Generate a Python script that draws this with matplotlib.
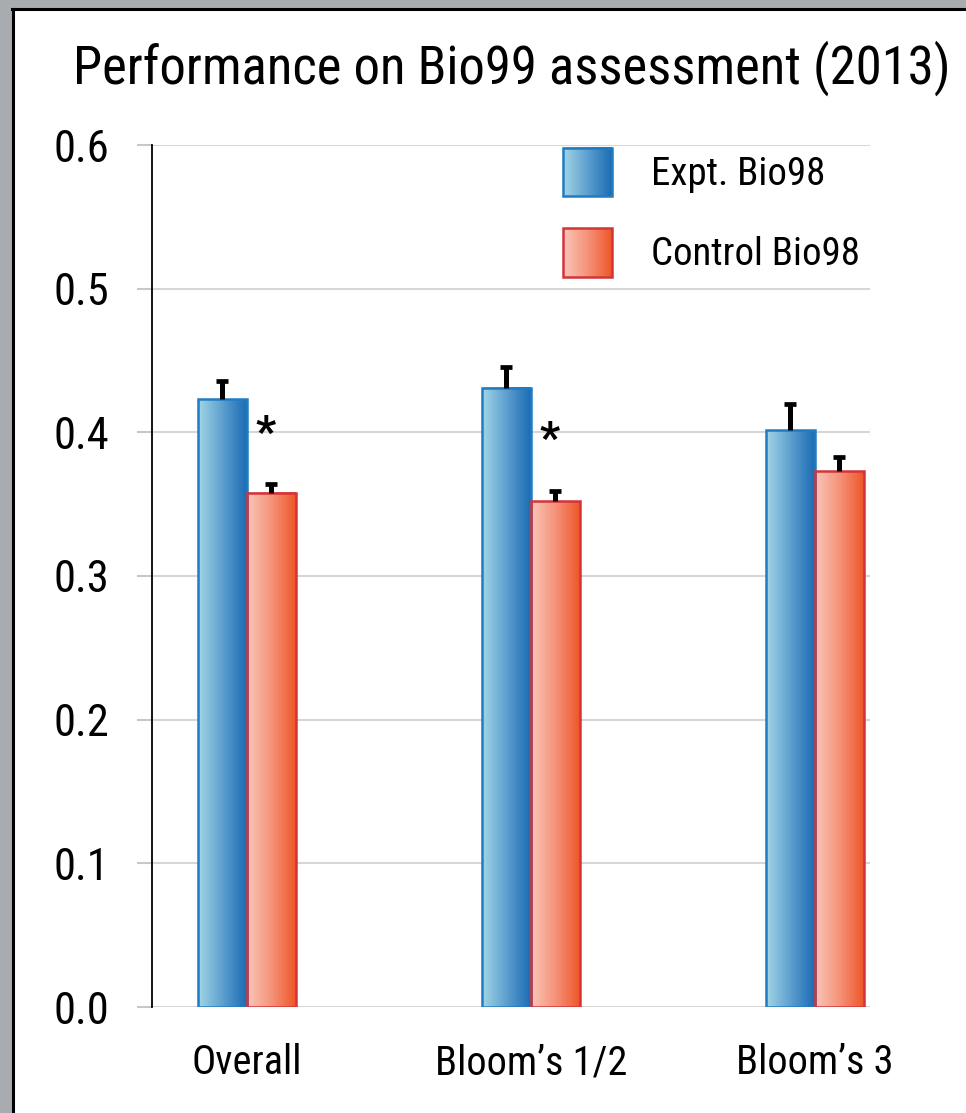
import numpy as np
import matplotlib
matplotlib.use('Agg')
import matplotlib.pyplot as plt
from matplotlib.colors import LinearSegmentedColormap
from matplotlib.legend_handler import HandlerBase
from matplotlib.image import BboxImage
from matplotlib.transforms import Bbox, TransformedBbox
from matplotlib.patches import Rectangle
from matplotlib.lines import Line2D

plt.rcParams['font.family'] = ['Liberation Sans Narrow', 'Roboto Condensed', 'DejaVu Sans']

# dados
grupos = ['Overall', 'Bloom\u2019s 1/2', 'Bloom\u2019s 3']
expt = [0.423, 0.431, 0.4015]
expt_err = [0.013, 0.0145, 0.0185]
controle = [0.358, 0.352, 0.373]
controle_err = [0.006, 0.007, 0.0095]
asterisco_y = [0.398, 0.394, None]
series = ['Expt. Bio98', 'Control Bio98']

azul = LinearSegmentedColormap.from_list('azul', ['#a3d6e6', '#5d9fcf', '#1a6cb4'])
vermelho = LinearSegmentedColormap.from_list('verm', ['#fac6b9', '#f5937a', '#ee5628'])
borda_azul = '#1f7cc4'
borda_verm = '#d2343a'
grad = np.linspace(0, 1, 256).reshape(1, -1)

fig = plt.figure(figsize=(9.66, 11.13), dpi=100, facecolor='white')
ax = fig.add_axes([152/966, 1 - 1007/1113, 718/966, 862/1113])

x = np.arange(len(grupos))
w = 0.172


def barras_gradiente(pos, valores, erros, cmap, borda):
    bars = ax.bar(pos, valores, w, facecolor='none', edgecolor=borda, linewidth=1.8, zorder=3)
    for r in bars:
        x0 = r.get_x()
        ax.imshow(grad, extent=[x0, x0 + r.get_width(), 0, r.get_height()],
                  cmap=cmap, aspect='auto', interpolation='bilinear', zorder=2)
    _, caps, _ = ax.errorbar(pos, valores, yerr=[[0] * len(valores), erros], fmt='none',
                             ecolor='black', elinewidth=3.6, capsize=4.3, capthick=3.4, zorder=4)
    # so o traco de cima (em T)
    caps[0].set_visible(False)


barras_gradiente(x - w / 2, expt, expt_err, azul, borda_azul)
barras_gradiente(x + w / 2, controle, controle_err, vermelho, borda_verm)

for i, yy in enumerate(asterisco_y):
    if yy is not None:
        ax.text(x[i] + w / 2 - 0.02, yy, '*', fontsize=32, fontweight='bold',
                ha='center', va='center', zorder=5)

ax.set_xlim(-0.334, 2.194)
ax.set_ylim(0, 0.6)
ax.set_yticks(np.arange(0, 0.61, 0.1))
ax.set_yticklabels(['%.1f' % v for v in np.arange(0, 0.61, 0.1)], fontsize=32)
ax.set_xticks(x)
ax.set_xticklabels(grupos, fontsize=29)
ax.tick_params(axis='x', length=0, pad=26)
ax.tick_params(axis='y', length=11, width=1.5, color='#c8c8c8', pad=20)
ax.yaxis.grid(True, color='#d6d6d6', linewidth=1.5, zorder=0)
ax.set_axisbelow(True)
for s in ['top', 'right', 'bottom']:
    ax.spines[s].set_visible(False)
ax.spines['left'].set_linewidth(1.3)
ax.spines['left'].set_zorder(5)


class HandlerGradiente(HandlerBase):
    def __init__(self, cmap, borda):
        super().__init__()
        self.cmap = cmap
        self.borda = borda

    def create_artists(self, legend, orig_handle, xdescent, ydescent, width, height, fontsize, trans):
        bb = TransformedBbox(Bbox.from_bounds(-xdescent, -ydescent, width, height), trans)
        img = BboxImage(bb, cmap=self.cmap, interpolation='bilinear')
        img.set_data(grad)
        r = Rectangle((-xdescent, -ydescent), width, height, facecolor='none',
                      edgecolor=self.borda, linewidth=1.8, transform=trans)
        return [img, r]


h1 = Rectangle((0, 0), 1, 1)
h2 = Rectangle((0, 0), 1, 1)
ax.legend([h1, h2], series, handler_map={h1: HandlerGradiente(azul, borda_azul),
                                         h2: HandlerGradiente(vermelho, borda_verm)},
          loc='upper left', bbox_to_anchor=(563/966, 1 - 148/1113), bbox_transform=fig.transFigure,
          frameon=False, fontsize=28, handlelength=1.26, handleheight=1.54,
          handletextpad=1.0, labelspacing=0.82, borderpad=0, borderaxespad=0)

fig.text(512/966, 1 - 68/1113, 'Performance on Bio99 assessment (2013)', fontsize=38,
         ha='center', va='center')

# moldura cinza e preta
fig.patches.append(Rectangle((0, 0), 12/966, 1, transform=fig.transFigure, color='#a8abaf', zorder=0))
fig.patches.append(Rectangle((0, 1 - 8/1113), 1, 8/1113, transform=fig.transFigure, color='#a8abaf', zorder=0))
fig.lines.append(Line2D([13/966, 13/966], [0, 1 - 8.5/1113], transform=fig.transFigure, color='black', linewidth=2.2))
fig.lines.append(Line2D([12/966, 1], [1 - 9/1113, 1 - 9/1113], transform=fig.transFigure, color='black', linewidth=2.2))

fig.savefig('out.png', dpi=100, facecolor='white')
